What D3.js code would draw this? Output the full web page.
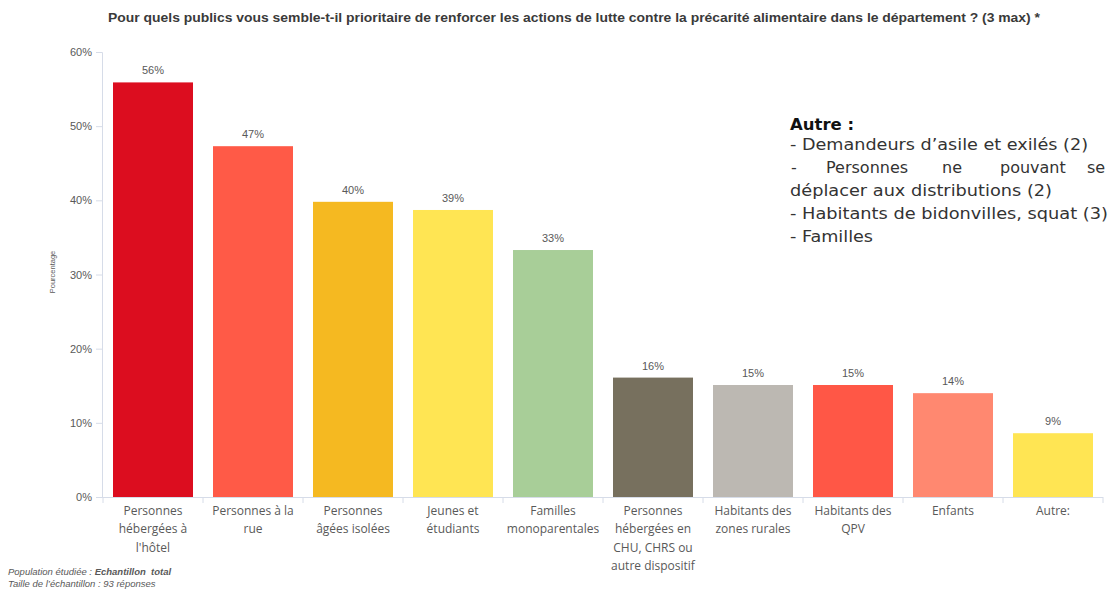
<!DOCTYPE html>
<html>
<head>
<meta charset="utf-8">
<script src="https://cdn.jsdelivr.net/npm/d3@7"></script>
<style>
  html, body { margin: 0; padding: 0; background: #fff; }
  svg { display: block; }
</style>
</head>
<body>
<div id="chart"></div>
<script>
// Publics jugés prioritaires (plusieurs réponses possibles, 93 répondants)
const categories = [
  ["Personnes", "hébergées à", "l'hôtel"],
  ["Personnes à la", "rue"],
  ["Personnes", "âgées isolées"],
  ["Jeunes et", "étudiants"],
  ["Familles", "monoparentales"],
  ["Personnes", "hébergées en", "CHU, CHRS ou", "autre dispositif"],
  ["Habitants des", "zones rurales"],
  ["Habitants des", "QPV"],
  ["Enfants"],
  ["Autre:"]
];
const values = [55.9, 47.3, 39.8, 38.7, 33.3, 16.1, 15.1, 15.1, 14.0, 8.6];
const barColors = ["#DC0D1F", "#FF5A47", "#F5B921", "#FFE553", "#A8CE98",
                   "#77705E", "#BCB8B2", "#FF5746", "#FF8870", "#FFE553"];
const yTicks = [0, 10, 20, 30, 40, 50, 60];
const autreTitle = "Autre :";
const autreLines = [
  "- Demandeurs d\u2019asile et exilés (2)",
  ["-", "Personnes", "ne", "pouvant", "se"],
  "déplacer aux distributions (2)",
  "- Habitants de bidonvilles, squat (3)",
  "- Familles"
];

const W = 1110, H = 590;
const svg = d3.select("#chart").append("svg").attr("width", W).attr("height", H);

const x = d3.scaleBand().domain(d3.range(values.length))
  .range([103, 1103]).paddingInner(0.2).paddingOuter(0.1);
const y = d3.scaleLinear().domain([0, 60]).range([497, 52]);

const grey = "#595959";
const axisColor = "#D6DCE8";

// Titre
svg.append("text")
  .attr("x", 574).attr("y", 22)
  .attr("text-anchor", "middle")
  .attr("font-family", "Liberation Sans Narrow, Liberation Sans, sans-serif")
  .attr("font-weight", "bold").attr("font-size", 12.5)
  .attr("fill", "#3a3a3a")
  .attr("textLength", 932).attr("lengthAdjust", "spacingAndGlyphs")
  .text("Pour quels publics vous semble-t-il prioritaire de renforcer les actions de lutte contre la précarité alimentaire dans le département ? (3 max) *");

// Axe vertical
const yAxis = svg.append("g").attr("transform", "translate(102,0)")
  .call(d3.axisLeft(y).tickValues(yTicks).tickFormat(d => d + "%").tickSize(6).tickPadding(4));
yAxis.select(".domain").attr("stroke", axisColor);
yAxis.selectAll(".tick line").attr("stroke", axisColor);
yAxis.selectAll(".tick text")
  .attr("fill", grey).attr("font-size", 11)
  .attr("font-family", "Liberation Sans, sans-serif");

// Titre de l'axe
svg.append("text")
  .attr("transform", "translate(55,272) rotate(-90)")
  .attr("text-anchor", "middle")
  .attr("font-family", "Liberation Sans, sans-serif")
  .attr("font-size", 7.5).attr("fill", grey)
  .text("Pourcentage");

// Axe horizontal
svg.append("line")
  .attr("x1", 102).attr("x2", 1103).attr("y1", 497.5).attr("y2", 497.5)
  .attr("stroke", axisColor);
svg.selectAll(".xtick").data(d3.range(values.length + 1)).join("line")
  .attr("class", "xtick")
  .attr("x1", i => 103 + i * x.step()).attr("x2", i => 103 + i * x.step())
  .attr("y1", 497).attr("y2", 503)
  .attr("stroke", axisColor);

// Barres
svg.selectAll(".bar").data(values).join("rect")
  .attr("class", "bar")
  .attr("x", (d, i) => x(i))
  .attr("width", x.bandwidth())
  .attr("y", d => y(d))
  .attr("height", d => y(0) - y(d))
  .attr("fill", (d, i) => barColors[i]);

// Étiquettes de valeur
svg.selectAll(".val").data(values).join("text")
  .attr("class", "val")
  .attr("x", (d, i) => x(i) + x.bandwidth() / 2)
  .attr("y", d => y(d) - 8)
  .attr("text-anchor", "middle")
  .attr("font-family", "Liberation Sans, sans-serif")
  .attr("font-size", 11).attr("fill", grey)
  .text(d => Math.round(d) + "%");

// Libellés des catégories
const cat = svg.selectAll(".cat").data(categories).join("text")
  .attr("class", "cat")
  .attr("text-anchor", "middle")
  .attr("font-family", "Open Sans, sans-serif")
  .attr("font-size", 12).attr("fill", grey);
cat.each(function (lines, i) {
  d3.select(this).selectAll("tspan").data(lines).join("tspan")
    .attr("x", x(i) + x.bandwidth() / 2)
    .attr("y", (l, j) => 515 + j * 18.3)
    .text(l => l);
});

// Encadré « Autre »
const ax = 790;
const boxFont = "DejaVu Sans, sans-serif";
svg.append("text")
  .attr("x", ax).attr("y", 130)
  .attr("font-family", boxFont)
  .attr("font-weight", "bold").attr("font-size", 16.5)
  .attr("fill", "#111")
  .text(autreTitle);
const lineWidths = [298, null, 262, 318, 83];
autreLines.forEach((line, j) => {
  const yy = 150 + j * 23;
  if (Array.isArray(line)) {
    // ligne justifiée
    const xs = [791, 826, 942, 1000, 1087];
    line.forEach((w, k) => {
      svg.append("text").attr("x", xs[k]).attr("y", yy)
        .attr("font-family", boxFont)
        .attr("font-size", 16).attr("fill", "#333")
        .text(w);
    });
  } else {
    svg.append("text").attr("x", ax).attr("y", yy)
      .attr("font-family", boxFont)
      .attr("font-size", 16).attr("fill", "#333")
      .attr("textLength", lineWidths[j]).attr("lengthAdjust", "spacingAndGlyphs")
      .text(line);
  }
});

// Pied de page
const foot = svg.append("g")
  .attr("font-family", "Liberation Sans, sans-serif")
  .attr("font-size", 9.5).attr("font-style", "italic").attr("fill", grey);
const f1 = foot.append("text").attr("x", 8).attr("y", 575);
f1.append("tspan").text("Population étudiée : ");
f1.append("tspan").attr("font-weight", "bold").text("Echantillon\u00a0 total");
foot.append("text").attr("x", 8).attr("y", 587).text("Taille de l\u2019échantillon : 93 réponses");
</script>
</body>
</html>
